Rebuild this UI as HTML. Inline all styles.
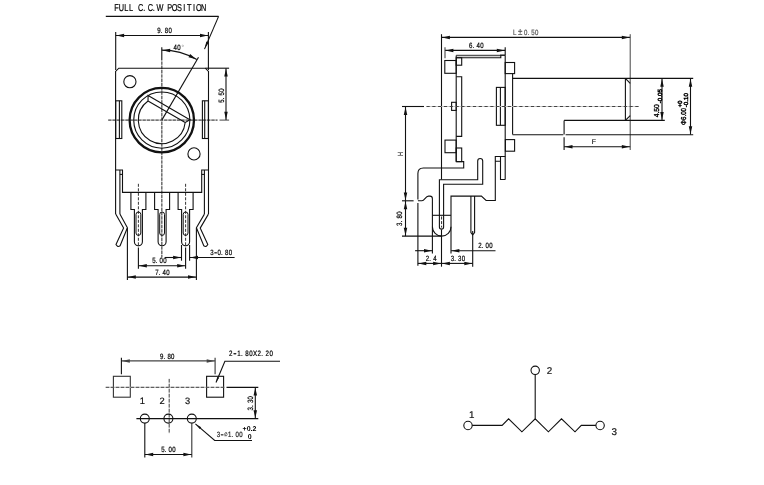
<!DOCTYPE html>
<html lang="en">
<head>
<meta charset="utf-8">
<title>Rotary potentiometer dimension drawing</title>
<style>
html,body{margin:0;padding:0;background:#fff;}
body{width:764px;height:485px;overflow:hidden;font-family:"Liberation Sans",sans-serif;}
svg{display:block;will-change:transform;}
text{white-space:pre;text-rendering:geometricPrecision;}
</style>
</head>
<body>
<svg width="764" height="485" viewBox="0 0 764 485">
<rect width="764" height="485" fill="#fff"/>
<text transform="translate(114.10,11.00) scale(0.73,1)" x="3.32 9.95 16.58 23.21 29.84 36.47 41.24 49.73 54.50 62.99 69.62 76.25 82.88 89.51 96.14 102.77 109.40 116.03 122.66" text-anchor="middle" font-family="'Liberation Sans', 'DejaVu Sans', sans-serif" font-size="10.0" font-weight="normal" fill="#000" stroke="#000" stroke-width="0.22">FULL C.C.W POSITION</text>
<line x1="105.80" y1="16.40" x2="218.60" y2="16.40" stroke="#111" stroke-width="1.1"/>
<line x1="218.60" y1="16.40" x2="204.50" y2="49.10" stroke="#111" stroke-width="1.1"/>
<polygon points="204.74,48.55 206.32,41.61 208.70,42.64" fill="#111"/>
<line x1="115.70" y1="35.45" x2="208.40" y2="35.45" stroke="#111" stroke-width="1.1"/>
<polygon points="116.30,35.45 124.10,33.70 124.10,37.20" fill="#111"/>
<polygon points="207.80,35.45 200.00,37.20 200.00,33.70" fill="#111"/>
<line x1="115.70" y1="32.10" x2="115.70" y2="70.00" stroke="#111" stroke-width="1.1"/>
<line x1="208.40" y1="32.10" x2="208.40" y2="70.00" stroke="#111" stroke-width="1.1"/>
<text transform="translate(157.10,32.90) scale(0.79,1)" x="2.35 5.74 11.77 16.48" text-anchor="middle" font-family="'Liberation Sans', 'DejaVu Sans', sans-serif" font-size="7.7" font-weight="normal" fill="#000" stroke="#000" stroke-width="0.22">9.80</text>
<line x1="161.80" y1="47.30" x2="161.80" y2="60.60" stroke="#111" stroke-width="1.1"/>
<line x1="161.80" y1="61.50" x2="161.80" y2="257.50" stroke="#c4c4c4" stroke-width="1.2"/>
<line x1="161.80" y1="61.50" x2="161.80" y2="257.50" stroke="#5a5a5a" stroke-width="1.2" stroke-dasharray="3.2 1.1"/>
<line x1="108.20" y1="120.10" x2="217.50" y2="120.10" stroke="#c4c4c4" stroke-width="1.2"/>
<line x1="108.20" y1="120.10" x2="217.50" y2="120.10" stroke="#5a5a5a" stroke-width="1.2" stroke-dasharray="3.2 1.1"/>
<line x1="219.50" y1="120.10" x2="229.10" y2="120.10" stroke="#555" stroke-width="1.1"/>
<path d="M161.80,50.10 A70,70 0 0 1 196.80,59.48" fill="none" stroke="#111" stroke-width="1.1" stroke-linejoin="miter"/>
<polygon points="162.40,50.13 170.28,48.79 170.10,52.29" fill="#111"/>
<polygon points="196.27,59.21 188.52,57.22 190.11,54.11" fill="#111"/>
<line x1="161.80" y1="120.10" x2="198.50" y2="57.30" stroke="#111" stroke-width="1.1"/>
<text transform="translate(173.40,49.60) scale(0.79,1)" x="2.35 7.06 11.77" text-anchor="middle" font-family="'Liberation Sans', 'DejaVu Sans', sans-serif" font-size="7.7" font-weight="normal" fill="#000" stroke="#000" stroke-width="0.22">40<tspan fill="#777" stroke="none">°</tspan></text>
<path d="M115.6,214.1 L115.6,71.4 L118.8,68.2 L205.3,68.2 L208.5,71.4 L208.5,214.1" fill="none" stroke="#111" stroke-width="1.1" stroke-linejoin="miter"/>
<line x1="205.40" y1="68.20" x2="229.10" y2="68.20" stroke="#111" stroke-width="1.1"/>
<circle cx="129.90" cy="81.70" r="6.10" fill="none" stroke="#111" stroke-width="1.1"/>
<circle cx="194.00" cy="153.90" r="6.10" fill="none" stroke="#111" stroke-width="1.1"/>
<circle cx="161.80" cy="120.10" r="32.20" fill="none" stroke="#111" stroke-width="2.3"/>
<circle cx="161.80" cy="120.10" r="28.10" fill="none" stroke="#111" stroke-width="1.1"/>
<path d="M148.10,95.56 L189.90,119.69 L185.18,122.51 A23.5,23.5 0 1 1 148.02,101.06 Z M148.02,101.06 L185.18,122.51" fill="none" stroke="#111" stroke-width="1.1" stroke-linejoin="miter"/>
<rect x="115.70" y="100.80" width="6.10" height="37.70" fill="none" stroke="#111" stroke-width="1.1"/>
<line x1="119.40" y1="100.80" x2="119.40" y2="138.50" stroke="#111" stroke-width="1.1"/>
<rect x="202.40" y="100.80" width="6.00" height="37.70" fill="none" stroke="#111" stroke-width="1.1"/>
<line x1="204.70" y1="100.80" x2="204.70" y2="138.50" stroke="#111" stroke-width="1.1"/>
<line x1="226.00" y1="68.20" x2="226.00" y2="120.10" stroke="#111" stroke-width="1.1"/>
<polygon points="226.00,68.80 227.75,76.60 224.25,76.60" fill="#111"/>
<polygon points="226.00,119.50 224.25,111.70 227.75,111.70" fill="#111"/>
<text transform="translate(223.80,103.00) rotate(-90) scale(0.79,1)" x="2.35 5.74 11.77 16.48" text-anchor="middle" font-family="'Liberation Sans', 'DejaVu Sans', sans-serif" font-size="7.7" font-weight="normal" fill="#000" stroke="#000" stroke-width="0.22">5.50</text>
<path d="M115.7,170 L122.5,170 L122.5,192.4 L201.7,192.4 L201.7,170 L208.4,170" fill="none" stroke="#111" stroke-width="1.1" stroke-linejoin="miter"/>
<line x1="119.90" y1="170.00" x2="119.90" y2="214.10" stroke="#111" stroke-width="1.1"/>
<line x1="119.90" y1="174.40" x2="122.50" y2="174.40" stroke="#111" stroke-width="1.1"/>
<line x1="204.40" y1="170.00" x2="204.40" y2="214.10" stroke="#111" stroke-width="1.1"/>
<line x1="201.70" y1="174.40" x2="204.40" y2="174.40" stroke="#111" stroke-width="1.1"/>
<path d="M115.7,214.1 L123.6,228.1 L116.0,244.6 Q117.5,247.5 120.1,245.8 L127.4,227.7 L119.9,214.1" fill="none" stroke="#111" stroke-width="1.1" stroke-linejoin="round"/>
<path d="M208.4,214.1 L200.2,228.1 L207.8,244.6 Q206.3,247.5 203.8,245.8 L196.4,227.7 L204.4,214.1" fill="none" stroke="#111" stroke-width="1.1" stroke-linejoin="round"/>
<path d="M130.90,192.4 L130.90,209.5 L134.40,209.5 L134.40,241.8 A4,4 0 0 0 142.40,241.8 L142.40,209.5 L145.90,209.5 L145.90,192.4" fill="none" stroke="#111" stroke-width="1.1" stroke-linejoin="miter"/>
<rect x="136.00" y="212" width="4.8" height="23.4" rx="2.4" fill="none" stroke="#111" stroke-width="1"/>
<path d="M154.60,192.4 L154.60,209.5 L158.10,209.5 L158.10,241.8 A4,4 0 0 0 166.10,241.8 L166.10,209.5 L169.60,209.5 L169.60,192.4" fill="none" stroke="#111" stroke-width="1.1" stroke-linejoin="miter"/>
<rect x="159.70" y="212" width="4.8" height="23.4" rx="2.4" fill="none" stroke="#111" stroke-width="1"/>
<path d="M178.10,192.4 L178.10,209.5 L181.60,209.5 L181.60,241.8 A4,4 0 0 0 189.60,241.8 L189.60,209.5 L193.10,209.5 L193.10,192.4" fill="none" stroke="#111" stroke-width="1.1" stroke-linejoin="miter"/>
<rect x="183.20" y="212" width="4.8" height="23.4" rx="2.4" fill="none" stroke="#111" stroke-width="1"/>
<line x1="138.40" y1="183.80" x2="138.40" y2="247.00" stroke="#111" stroke-width="0.85" stroke-dasharray="3 1.5"/>
<line x1="185.60" y1="183.80" x2="185.60" y2="247.00" stroke="#111" stroke-width="0.85" stroke-dasharray="3 1.5"/>
<line x1="127.40" y1="228.00" x2="127.40" y2="280.00" stroke="#111" stroke-width="1.1"/>
<line x1="196.40" y1="228.00" x2="196.40" y2="280.00" stroke="#111" stroke-width="1.1"/>
<line x1="127.40" y1="277.10" x2="196.40" y2="277.10" stroke="#111" stroke-width="1.1"/>
<polygon points="128.00,277.10 135.80,275.35 135.80,278.85" fill="#111"/>
<polygon points="195.80,277.10 188.00,278.85 188.00,275.35" fill="#111"/>
<text transform="translate(155.00,274.60) scale(0.79,1)" x="2.35 5.74 11.77 16.48" text-anchor="middle" font-family="'Liberation Sans', 'DejaVu Sans', sans-serif" font-size="7.7" font-weight="normal" fill="#000" stroke="#000" stroke-width="0.22">7.40</text>
<line x1="138.40" y1="247.60" x2="138.40" y2="268.70" stroke="#111" stroke-width="1.1"/>
<line x1="185.60" y1="247.60" x2="185.60" y2="268.70" stroke="#111" stroke-width="1.1"/>
<line x1="138.40" y1="265.70" x2="185.60" y2="265.70" stroke="#111" stroke-width="1.1"/>
<polygon points="139.00,265.70 146.80,263.95 146.80,267.45" fill="#111"/>
<polygon points="185.00,265.70 177.20,267.45 177.20,263.95" fill="#111"/>
<text transform="translate(152.00,263.30) scale(0.79,1)" x="2.35 5.74 11.77 16.48" text-anchor="middle" font-family="'Liberation Sans', 'DejaVu Sans', sans-serif" font-size="7.7" font-weight="normal" fill="#000" stroke="#000" stroke-width="0.22">5.00</text>
<line x1="181.50" y1="245.00" x2="181.50" y2="260.70" stroke="#111" stroke-width="1.1"/>
<line x1="189.60" y1="245.00" x2="189.60" y2="260.70" stroke="#111" stroke-width="1.1"/>
<line x1="164.90" y1="257.50" x2="181.50" y2="257.50" stroke="#111" stroke-width="1.1"/>
<polygon points="180.90,257.50 173.10,259.25 173.10,255.75" fill="#111"/>
<line x1="189.60" y1="257.50" x2="234.60" y2="257.50" stroke="#111" stroke-width="1.1"/>
<polygon points="190.20,257.50 198.00,255.75 198.00,259.25" fill="#111"/>
<text transform="translate(210.00,254.90) scale(0.79,1)" x="2.35 7.06 11.77 15.16 21.19 25.90" text-anchor="middle" dy="0.0 0.9 -0.9 0.0 0.0 0.0" font-family="'Liberation Sans', 'DejaVu Sans', sans-serif" font-size="7.7" font-weight="normal" fill="#000" stroke="#000" stroke-width="0.22">3<tspan font-size="12.3">-</tspan>0.80</text>
<line x1="441.50" y1="37.40" x2="630.20" y2="37.40" stroke="#111" stroke-width="1.1"/>
<polygon points="442.10,37.40 449.90,35.65 449.90,39.15" fill="#111"/>
<polygon points="629.60,37.40 621.80,39.15 621.80,35.65" fill="#111"/>
<line x1="441.50" y1="34.20" x2="441.50" y2="179.50" stroke="#111" stroke-width="1.1"/>
<line x1="441.60" y1="216.50" x2="441.60" y2="227.50" stroke="#111" stroke-width="0.9" stroke-dasharray="3 1.6"/>
<line x1="441.50" y1="229.50" x2="441.50" y2="266.70" stroke="#111" stroke-width="1.1"/>
<line x1="630.20" y1="34.20" x2="630.20" y2="150.00" stroke="#444" stroke-width="1"/>
<text transform="translate(512.90,35.00) scale(0.79,1)" x="2.31 9.24 16.17 19.50 25.41 30.03" text-anchor="middle" font-family="'Liberation Sans', 'DejaVu Sans', sans-serif" font-size="7.7" font-weight="normal" fill="#555" stroke="#555" stroke-width="0.22">L<tspan font-size="10.0">±</tspan>0.50</text>
<line x1="445.00" y1="50.40" x2="505.20" y2="50.40" stroke="#111" stroke-width="1.1"/>
<polygon points="445.60,50.40 453.40,48.65 453.40,52.15" fill="#111"/>
<polygon points="504.60,50.40 496.80,52.15 496.80,48.65" fill="#111"/>
<line x1="445.00" y1="47.30" x2="445.00" y2="58.20" stroke="#444" stroke-width="1.1"/>
<line x1="505.20" y1="47.30" x2="505.20" y2="55.40" stroke="#111" stroke-width="1.1"/>
<text transform="translate(468.90,48.00) scale(0.79,1)" x="2.35 5.74 11.77 16.48" text-anchor="middle" font-family="'Liberation Sans', 'DejaVu Sans', sans-serif" font-size="7.7" font-weight="normal" fill="#000" stroke="#000" stroke-width="0.22">6.40</text>
<line x1="456.20" y1="55.40" x2="500.80" y2="55.40" stroke="#555" stroke-width="1.5"/>
<line x1="500.20" y1="55.20" x2="505.20" y2="55.20" stroke="#111" stroke-width="1.4"/>
<path d="M456.2,57.8 L500.8,57.8 L500.8,55.2" fill="none" stroke="#111" stroke-width="1.1" stroke-linejoin="miter"/>
<line x1="456.20" y1="55.40" x2="456.20" y2="161.60" stroke="#111" stroke-width="1.1"/>
<line x1="505.20" y1="55.40" x2="505.20" y2="179.50" stroke="#111" stroke-width="1.1"/>
<rect x="444.80" y="60.50" width="11.40" height="12.80" fill="none" stroke="#111" stroke-width="1.1"/>
<rect x="456.20" y="57.70" width="5.50" height="7.50" fill="none" stroke="#111" stroke-width="1.1"/>
<path d="M456.2,76.7 L461.7,76.7 L461.7,136.4 L456.2,136.4" fill="none" stroke="#111" stroke-width="1.1" stroke-linejoin="miter"/>
<rect x="451.60" y="102.30" width="4.60" height="8.10" fill="none" stroke="#111" stroke-width="1.1"/>
<rect x="445.00" y="140.10" width="11.20" height="12.60" fill="none" stroke="#111" stroke-width="1.1"/>
<rect x="456.20" y="148.00" width="5.50" height="13.60" fill="none" stroke="#111" stroke-width="1.1"/>
<path d="M456.2,161.6 L463.7,161.6 L463.7,168 L423.4,168 Q417.9,168 417.9,173.5 L417.9,199.6 M417.9,203 L417.9,265.8" fill="none" stroke="#111" stroke-width="1.1" stroke-linejoin="miter"/>
<rect x="505.20" y="62.50" width="9.40" height="11.10" fill="none" stroke="#111" stroke-width="1.1"/>
<line x1="512.60" y1="73.60" x2="512.60" y2="134.60" stroke="#111" stroke-width="1.1"/>
<line x1="512.60" y1="78.40" x2="693.20" y2="78.40" stroke="#111" stroke-width="1.1"/>
<line x1="512.60" y1="134.70" x2="563.30" y2="134.70" stroke="#111" stroke-width="1.1"/>
<line x1="565.60" y1="134.70" x2="693.20" y2="134.70" stroke="#111" stroke-width="1.1"/>
<line x1="564.10" y1="120.40" x2="664.80" y2="120.40" stroke="#111" stroke-width="1.1"/>
<line x1="564.10" y1="120.40" x2="564.10" y2="134.60" stroke="#111" stroke-width="1.1"/>
<line x1="625.40" y1="78.40" x2="625.40" y2="120.40" stroke="#111" stroke-width="1.1"/>
<line x1="625.40" y1="78.40" x2="630.20" y2="83.40" stroke="#111" stroke-width="1.1"/>
<line x1="625.40" y1="120.40" x2="630.20" y2="115.60" stroke="#111" stroke-width="1.1"/>
<rect x="505.40" y="139.60" width="9.20" height="11.60" fill="none" stroke="#111" stroke-width="1.1"/>
<rect x="496.40" y="87.40" width="8.80" height="37.90" fill="none" stroke="#111" stroke-width="1.1"/>
<line x1="500.40" y1="87.40" x2="500.40" y2="125.30" stroke="#111" stroke-width="1.1"/>
<path d="M495.3,200.5 L495.3,156.5 L505.3,156.5 M500.5,156.5 L500.5,179.5 L505.3,179.5 M495.3,161.3 L500.5,161.3" fill="none" stroke="#111" stroke-width="1.1" stroke-linejoin="miter"/>
<path d="M451,253.5 L451,196.1 L481.4,196.1 L486.1,200.5 L495.8,200.5" fill="none" stroke="#111" stroke-width="1.1" stroke-linejoin="miter"/>
<path d="M439.4,227 L439.4,179.8 L477.7,179.8 L477.7,161 A2.5,2.5 0 0 1 482.7,161 L482.7,184.3 L443.6,184.3 L443.6,227 A2.1,2.1 0 0 1 439.4,227" fill="none" stroke="#111" stroke-width="1.1" stroke-linejoin="miter"/>
<path d="M417.9,200.8 L422.0,200.8 C424.5,200.8 425.5,196.1 428.5,196.1 L430,196.1 Q432.4,196.1 432.4,198.7 L432.4,226.8 A9.3,9.3 0 0 0 451,226.8" fill="none" stroke="#111" stroke-width="1.1" stroke-linejoin="miter"/>
<line x1="432.40" y1="215.30" x2="451.00" y2="215.30" stroke="#111" stroke-width="1.1"/>
<line x1="432.40" y1="226.80" x2="432.40" y2="253.50" stroke="#111" stroke-width="1.1"/>
<path d="M470.9,196.1 L470.9,232.5 L472.7,234.8 L474.6,232.5 L474.6,196.1" fill="none" stroke="#111" stroke-width="1.1" stroke-linejoin="miter"/>
<line x1="472.70" y1="231.00" x2="472.70" y2="266.70" stroke="#111" stroke-width="1.1"/>
<line x1="402.00" y1="106.50" x2="424.00" y2="106.50" stroke="#111" stroke-width="1.1"/>
<line x1="426.50" y1="106.50" x2="638.80" y2="106.50" stroke="#c0c0c0" stroke-width="0.9"/>
<line x1="426.50" y1="106.50" x2="638.80" y2="106.50" stroke="#333" stroke-width="0.9" stroke-dasharray="3.2 2.6"/>
<line x1="405.50" y1="106.50" x2="405.50" y2="200.80" stroke="#111" stroke-width="1.1"/>
<polygon points="405.50,107.10 407.25,114.90 403.75,114.90" fill="#111"/>
<polygon points="405.50,200.20 403.75,192.40 407.25,192.40" fill="#111"/>
<line x1="402.00" y1="200.80" x2="413.60" y2="200.80" stroke="#111" stroke-width="1.1"/>
<text transform="translate(402.90,156.00) rotate(-90) scale(0.72,1)" font-family="'Liberation Sans', 'DejaVu Sans', sans-serif" font-size="7.6" font-weight="normal" fill="#000" stroke="#000" stroke-width="0.1">H</text>
<line x1="405.50" y1="200.80" x2="405.50" y2="236.10" stroke="#111" stroke-width="1.1"/>
<polygon points="405.50,201.40 407.25,209.20 403.75,209.20" fill="#111"/>
<polygon points="405.50,235.50 403.75,227.70 407.25,227.70" fill="#111"/>
<line x1="402.00" y1="236.10" x2="441.50" y2="236.10" stroke="#111" stroke-width="1.1"/>
<text transform="translate(402.40,226.10) rotate(-90) scale(0.79,1)" x="2.35 5.74 11.77 16.48" text-anchor="middle" font-family="'Liberation Sans', 'DejaVu Sans', sans-serif" font-size="7.7" font-weight="normal" fill="#000" stroke="#000" stroke-width="0.22">3.80</text>
<line x1="415.10" y1="250.70" x2="432.40" y2="250.70" stroke="#111" stroke-width="1.1"/>
<polygon points="431.80,250.70 424.00,252.45 424.00,248.95" fill="#111"/>
<line x1="451.00" y1="250.70" x2="495.50" y2="250.70" stroke="#111" stroke-width="1.1"/>
<polygon points="451.60,250.70 459.40,248.95 459.40,252.45" fill="#111"/>
<text transform="translate(478.00,248.20) scale(0.79,1)" x="2.35 5.74 11.77 16.48" text-anchor="middle" font-family="'Liberation Sans', 'DejaVu Sans', sans-serif" font-size="7.7" font-weight="normal" fill="#000" stroke="#000" stroke-width="0.22">2.00</text>
<line x1="417.90" y1="263.40" x2="441.50" y2="263.40" stroke="#111" stroke-width="1.1"/>
<polygon points="418.50,263.40 426.30,261.65 426.30,265.15" fill="#111"/>
<polygon points="440.90,263.40 433.10,265.15 433.10,261.65" fill="#111"/>
<line x1="441.50" y1="263.40" x2="472.70" y2="263.40" stroke="#111" stroke-width="1.1"/>
<polygon points="442.10,263.40 449.90,261.65 449.90,265.15" fill="#111"/>
<polygon points="472.10,263.40 464.30,265.15 464.30,261.65" fill="#111"/>
<text transform="translate(425.60,260.80) scale(0.79,1)" x="2.35 5.74 11.77" text-anchor="middle" font-family="'Liberation Sans', 'DejaVu Sans', sans-serif" font-size="7.7" font-weight="normal" fill="#000" stroke="#000" stroke-width="0.22">2.4</text>
<text transform="translate(450.50,260.80) scale(0.79,1)" x="2.35 5.74 11.77 16.48" text-anchor="middle" font-family="'Liberation Sans', 'DejaVu Sans', sans-serif" font-size="7.7" font-weight="normal" fill="#000" stroke="#000" stroke-width="0.22">3.30</text>
<line x1="564.10" y1="137.20" x2="564.10" y2="150.00" stroke="#111" stroke-width="1.1"/>
<line x1="564.10" y1="146.70" x2="630.20" y2="146.70" stroke="#111" stroke-width="1.1"/>
<polygon points="564.70,146.70 572.50,144.95 572.50,148.45" fill="#111"/>
<polygon points="629.60,146.70 621.80,148.45 621.80,144.95" fill="#111"/>
<text transform="translate(591.70,144.10)" font-family="'Liberation Sans', 'DejaVu Sans', sans-serif" font-size="7.0" font-weight="normal" fill="#000" stroke="#000" stroke-width="0.1">F</text>
<line x1="662.00" y1="78.40" x2="662.00" y2="120.40" stroke="#111" stroke-width="1.1"/>
<polygon points="662.00,79.00 663.75,86.80 660.25,86.80" fill="#111"/>
<polygon points="662.00,119.80 660.25,112.00 663.75,112.00" fill="#111"/>
<line x1="690.50" y1="78.40" x2="690.50" y2="134.60" stroke="#111" stroke-width="1.1"/>
<polygon points="690.50,79.00 692.25,86.80 688.75,86.80" fill="#111"/>
<polygon points="690.50,134.00 688.75,126.20 692.25,126.20" fill="#111"/>
<text transform="translate(658.80,117.20) rotate(-90) scale(0.93,1)" font-family="'Liberation Sans', 'DejaVu Sans', sans-serif" font-size="7.2" font-weight="normal" fill="#000" stroke="#000" stroke-width="0.4">4.50</text>
<text transform="translate(661.60,103.20) rotate(-90) scale(1.03,1)" font-family="'Liberation Sans', 'DejaVu Sans', sans-serif" font-size="6.0" font-weight="normal" fill="#000" stroke="#000" stroke-width="0.5">-0.05</text>
<text transform="translate(686.20,124.90) rotate(-90) scale(0.86,1)" font-family="'Liberation Sans', 'DejaVu Sans', sans-serif" font-size="7.2" font-weight="normal" fill="#000" stroke="#000" stroke-width="0.4">Φ6.00</text>
<text transform="translate(681.60,107.20) rotate(-90) scale(0.95,1)" font-family="'Liberation Sans', 'DejaVu Sans', sans-serif" font-size="6.0" font-weight="normal" fill="#000" stroke="#000" stroke-width="0.5">+0</text>
<text transform="translate(687.60,107.20) rotate(-90) scale(1.03,1)" font-family="'Liberation Sans', 'DejaVu Sans', sans-serif" font-size="6.0" font-weight="normal" fill="#000" stroke="#000" stroke-width="0.5">-0.10</text>
<line x1="121.40" y1="360.90" x2="215.10" y2="360.90" stroke="#444" stroke-width="1.2"/>
<polygon points="122.00,360.90 129.80,359.15 129.80,362.65" fill="#444"/>
<polygon points="214.50,360.90 206.70,362.65 206.70,359.15" fill="#444"/>
<line x1="121.40" y1="357.70" x2="121.40" y2="374.30" stroke="#111" stroke-width="1.1"/>
<line x1="215.10" y1="357.70" x2="215.10" y2="374.30" stroke="#444" stroke-width="1.2"/>
<text transform="translate(159.80,358.70) scale(0.79,1)" x="2.35 5.74 11.77 16.48" text-anchor="middle" font-family="'Liberation Sans', 'DejaVu Sans', sans-serif" font-size="7.7" font-weight="normal" fill="#000" stroke="#000" stroke-width="0.22">9.80</text>
<rect x="113.40" y="376.30" width="16.90" height="20.90" fill="none" stroke="#333" stroke-width="1.1"/>
<rect x="206.60" y="376.30" width="17.00" height="20.90" fill="none" stroke="#111" stroke-width="1.1"/>
<line x1="105.70" y1="387.30" x2="224.50" y2="387.30" stroke="#d0d0d0" stroke-width="0.85"/>
<line x1="105.70" y1="387.30" x2="224.50" y2="387.30" stroke="#222" stroke-width="0.85" stroke-dasharray="3.6 1.4"/>
<line x1="226.50" y1="387.40" x2="258.30" y2="387.40" stroke="#111" stroke-width="1.1"/>
<line x1="169.20" y1="378.90" x2="169.20" y2="433.40" stroke="#d0d0d0" stroke-width="0.85"/>
<line x1="169.20" y1="378.90" x2="169.20" y2="433.40" stroke="#333" stroke-width="0.85" stroke-dasharray="3.6 1.4"/>
<path d="M216,382.5 L224.9,361.2 L280,361.2" fill="none" stroke="#111" stroke-width="1.1" stroke-linejoin="miter"/>
<polygon points="216.23,381.95 217.14,376.91 219.17,377.76" fill="#111"/>
<text transform="translate(228.80,355.70) scale(0.79,1)" x="2.56 7.69 12.82 16.51 23.07 28.20 33.32 38.45 42.14 48.70 53.83" text-anchor="middle" dy="0.0 0.9 -0.9 0.0 0.0 0.0 0.0 0.0 0.0 0.0 0.0" font-family="'Liberation Sans', 'DejaVu Sans', sans-serif" font-size="7.8" font-weight="normal" fill="#000" stroke="#000" stroke-width="0.22">2<tspan font-size="12.5">-</tspan>1.80X2.20</text>
<circle cx="144.80" cy="418.60" r="4.50" fill="none" stroke="#111" stroke-width="1.1"/>
<circle cx="168.40" cy="418.60" r="4.50" fill="none" stroke="#111" stroke-width="1.1"/>
<circle cx="191.80" cy="418.60" r="4.50" fill="none" stroke="#111" stroke-width="1.1"/>
<line x1="136.40" y1="418.60" x2="258.30" y2="418.60" stroke="#111" stroke-width="1.1"/>
<text transform="translate(139.80,403.70)" font-family="'Liberation Sans', 'DejaVu Sans', sans-serif" font-size="9.3" font-weight="normal" fill="#111" stroke="#111" stroke-width="0.2">1</text>
<text transform="translate(159.40,403.70)" font-family="'Liberation Sans', 'DejaVu Sans', sans-serif" font-size="9.3" font-weight="normal" fill="#111" stroke="#111" stroke-width="0.2">2</text>
<text transform="translate(185.00,403.70)" font-family="'Liberation Sans', 'DejaVu Sans', sans-serif" font-size="9.3" font-weight="normal" fill="#111" stroke="#111" stroke-width="0.2">3</text>
<line x1="255.30" y1="387.10" x2="255.30" y2="418.60" stroke="#111" stroke-width="1.1"/>
<polygon points="255.30,387.70 257.05,395.50 253.55,395.50" fill="#111"/>
<polygon points="255.30,418.00 253.55,410.20 257.05,410.20" fill="#111"/>
<text transform="translate(252.60,410.70) rotate(-90) scale(0.79,1)" x="2.35 5.74 11.77 16.48" text-anchor="middle" font-family="'Liberation Sans', 'DejaVu Sans', sans-serif" font-size="7.7" font-weight="normal" fill="#000" stroke="#000" stroke-width="0.22">3.30</text>
<line x1="144.80" y1="423.00" x2="144.80" y2="457.40" stroke="#111" stroke-width="1.1"/>
<line x1="191.80" y1="423.00" x2="191.80" y2="457.40" stroke="#333" stroke-width="1.1"/>
<line x1="144.80" y1="454.50" x2="191.80" y2="454.50" stroke="#111" stroke-width="1.1"/>
<polygon points="145.40,454.50 153.20,452.75 153.20,456.25" fill="#111"/>
<polygon points="191.20,454.50 183.40,456.25 183.40,452.75" fill="#111"/>
<text transform="translate(161.00,452.10) scale(0.79,1)" x="2.35 5.74 11.77 16.48" text-anchor="middle" font-family="'Liberation Sans', 'DejaVu Sans', sans-serif" font-size="7.7" font-weight="normal" fill="#000" stroke="#000" stroke-width="0.22">5.00</text>
<path d="M195.4,423.8 L214.7,440.5 L252,440.5" fill="none" stroke="#111" stroke-width="1.1" stroke-linejoin="miter"/>
<polygon points="195.86,424.19 201.22,427.14 199.67,428.98" fill="#111"/>
<text transform="translate(216.60,436.90) scale(0.79,1)" x="2.37 7.12 11.87 16.61 20.03 26.11 30.85" text-anchor="middle" dy="0.0 0.9 -2.2 1.3 0.0 0.0 0.0" font-family="'Liberation Sans', 'DejaVu Sans', sans-serif" font-size="7.7" font-weight="normal" fill="#222" stroke="#222" stroke-width="0.22">3<tspan font-size="12.3">-</tspan><tspan font-size="4.8" fill="#777">∅</tspan>1.00</text>
<text transform="translate(242.60,431.30)" font-family="'Liberation Sans', 'DejaVu Sans', sans-serif" font-size="7.0" font-weight="bold" fill="#000">+0.2</text>
<text transform="translate(247.80,438.80)" font-family="'Liberation Sans', 'DejaVu Sans', sans-serif" font-size="7.0" font-weight="bold" fill="#000">0</text>
<circle cx="468.00" cy="425.50" r="4.20" fill="none" stroke="#111" stroke-width="1.1"/>
<circle cx="535.20" cy="370.30" r="4.20" fill="none" stroke="#111" stroke-width="1.1"/>
<circle cx="600.10" cy="425.50" r="4.20" fill="none" stroke="#111" stroke-width="1.1"/>
<line x1="535.20" y1="374.50" x2="535.20" y2="418.80" stroke="#111" stroke-width="1.1"/>
<path d="M472.2,425.4 L502.1,425.4 L508.6,418.8 L521.9,431.8 L535.2,418.8 L548.4,431.8 L561.5,418.8 L575,431.8 L581.3,425.4 L595.9,425.4" fill="none" stroke="#111" stroke-width="1.1" stroke-linejoin="miter"/>
<text transform="translate(468.90,418.30)" font-family="'Liberation Sans', 'DejaVu Sans', sans-serif" font-size="9.8" font-weight="normal" fill="#111" stroke="#111" stroke-width="0.2">1</text>
<text transform="translate(546.80,373.80)" font-family="'Liberation Sans', 'DejaVu Sans', sans-serif" font-size="9.8" font-weight="normal" fill="#111" stroke="#111" stroke-width="0.2">2</text>
<text transform="translate(611.60,435.10)" font-family="'Liberation Sans', 'DejaVu Sans', sans-serif" font-size="9.8" font-weight="normal" fill="#111" stroke="#111" stroke-width="0.2">3</text>
</svg>
</body>
</html>
